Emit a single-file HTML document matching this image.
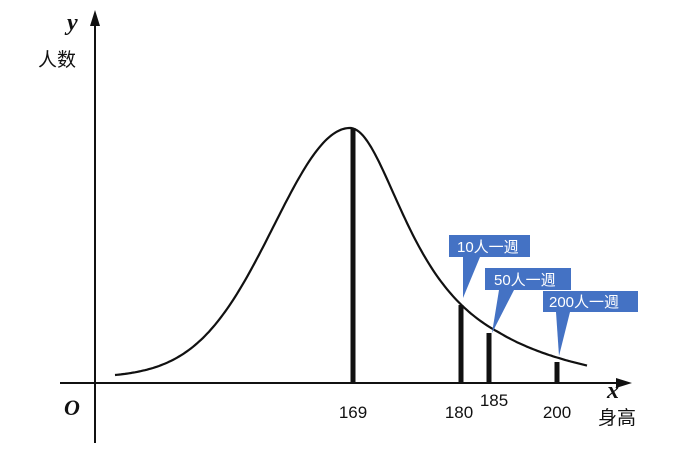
<!DOCTYPE html>
<html><head><meta charset="utf-8"><style>
html,body{margin:0;padding:0;background:#fff;width:677px;height:454px;overflow:hidden}
svg text{font-family:"Liberation Sans","Noto Sans CJK SC",sans-serif}
svg text.it{font-family:"Liberation Serif",serif;font-style:italic;font-weight:bold}
</style></head><body>
<svg id="s" width="677" height="454" viewBox="0 0 677 454" xmlns="http://www.w3.org/2000/svg">
<rect width="677" height="454" fill="#fff"/>
<line x1="95" y1="443" x2="95" y2="22" stroke="#111" stroke-width="2"/>
<polygon points="95,10 90,26 100,26" fill="#111"/>
<line x1="60" y1="383" x2="622" y2="383" stroke="#111" stroke-width="2"/>
<polygon points="632,383 616,378 616,388" fill="#111"/>
<path id="c" d="" fill="none" stroke="#111" stroke-width="2.2"/>
<line x1="353" y1="128" x2="353" y2="383" stroke="#111" stroke-width="5"/>
<line x1="461" y1="305" x2="461" y2="383" stroke="#111" stroke-width="5"/>
<line x1="489" y1="333" x2="489" y2="383" stroke="#111" stroke-width="5"/>
<line x1="557" y1="362" x2="557" y2="383" stroke="#111" stroke-width="5"/>
<g fill="#4472c4">
<rect x="449" y="235" width="81" height="22"/><polygon points="463,257 480,257 463,298"/>
<rect x="485" y="268" width="86" height="22"/><polygon points="499,290 514,290 492,333"/>
<rect x="543" y="291" width="95" height="21"/><polygon points="556,312 570,312 559,356"/>
</g>
<g fill="#fff" font-size="15">
<text x="457" y="252">10人一週</text>
<text x="494" y="285">50人一週</text>
<text x="549" y="307">200人一週</text>
</g>
<g fill="#111">
<text class="it" x="67" y="30" font-size="24">y</text>
<text x="38" y="66" font-size="19">人数</text>
<text class="it" x="64" y="415" font-size="22">O</text>
<text x="353" y="418" font-size="17" text-anchor="middle">169</text>
<text x="459" y="418" font-size="17" text-anchor="middle">180</text>
<text x="494" y="406" font-size="17" text-anchor="middle">185</text>
<text x="557" y="418" font-size="17" text-anchor="middle">200</text>
<text class="it" x="607" y="398" font-size="24">x</text>
<text x="598" y="424" font-size="19">身高</text>
</g>
</svg>
<script>
var p=[];for(var x=115;x<=588;x+=2){var d=x-350,h;
if(d<0){h=247*Math.exp(-d*d/(2*76*76))+8*Math.exp(-d*d/(2*300*300));}
else{var s=74;h=255/(1+Math.pow(d/s,2));h=h-(d>150?(d-150)*0.06:0);}
p.push((p.length?'L':'M')+x+','+(383-h).toFixed(1));}
document.getElementById('c').setAttribute('d',p.join(' '));
</script>
</body></html>
